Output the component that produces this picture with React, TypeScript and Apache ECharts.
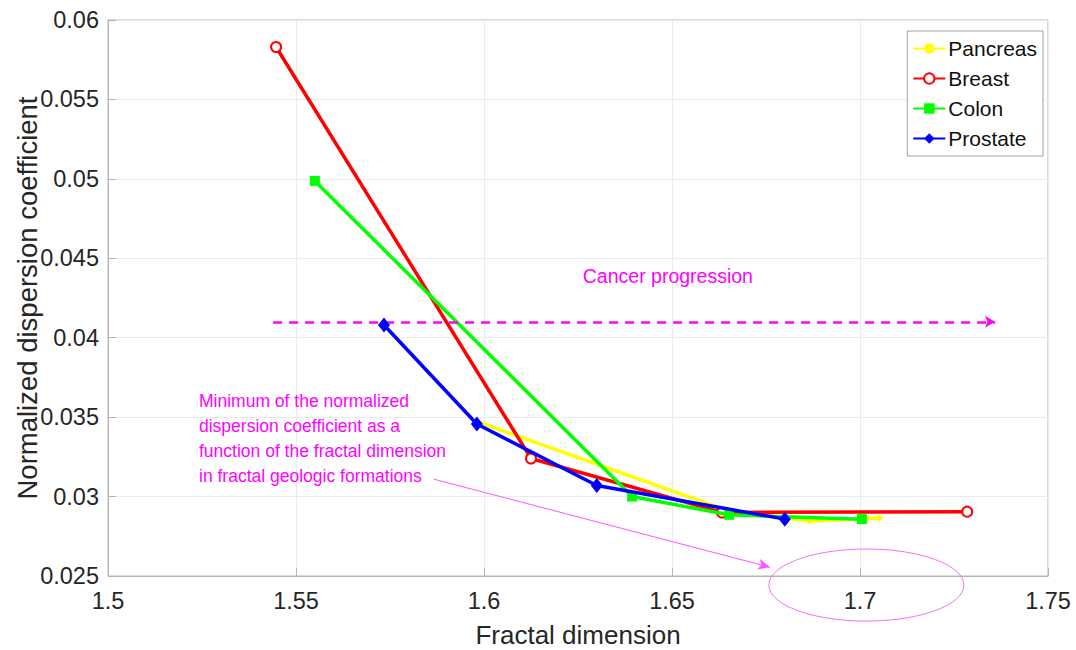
import React, { useEffect, useRef } from "react";
import * as echarts from "echarts";

const seriesNames = ["Pancreas", "Breast", "Colon", "Prostate"];
const pancreas: [number, number][] = [
  [1.5995, 0.0346],
  [1.665, 0.0291],
  [1.6867, 0.02846],
  [1.7051, 0.02865],
];
const breast: [number, number][] = [
  [1.5447, 0.0583],
  [1.6125, 0.0324],
  [1.6633, 0.0290],
  [1.7285, 0.02905],
];
const colon: [number, number][] = [
  [1.555, 0.04987],
  [1.6394, 0.0300],
  [1.6652, 0.02885],
  [1.7005, 0.02858],
];
const prostate: [number, number][] = [
  [1.5734, 0.0408],
  [1.5981, 0.03457],
  [1.630, 0.0307],
  [1.680, 0.02858],
];

const progressionArrow: [number, number][] = [
  [1.5439, 0.041],
  [1.7359, 0.041],
];
const minimumArrow: [number, number][] = [
  [1.5866, 0.0311],
  [1.6761, 0.02555],
];
const progressionLabel = "Cancer progression";
const progressionLabelPos: [number, number] = [1.6489, 0.04389];
const minimumLabel = [
  "Minimum of the normalized",
  "dispersion coefficient as a",
  "function of the fractal dimension",
  "in fractal geologic formations",
];
const minimumLabelPos: [number, number] = [1.5242, 0.03681];
const ellipseCenter: [number, number] = [1.7017, 0.02443];
const ellipseRadii: [number, number] = [0.02593, 0.002267];

const FONT = "'Liberation Sans', Arial, sans-serif";
const MAGENTA = "#ff00ff";

export default function App() {
  const ref = useRef<HTMLDivElement>(null);
  useEffect(() => {
    if (!ref.current) return;
    const chart = echarts.init(ref.current, null, { renderer: "svg" });
    const fmt = (v: number) => String(+v.toFixed(3));
    chart.setOption({
      animation: false,
      backgroundColor: "#ffffff",
      textStyle: { fontFamily: FONT },
      grid: {
        left: 108,
        right: 28,
        top: 20,
        bottom: 74,
        containLabel: false,
        outerBoundsMode: "none",
        show: true,
        borderColor: "#b4b4b4",
        borderWidth: 1,
        backgroundColor: "transparent",
      },
      legend: {
        data: seriesNames,
        orient: "vertical",
        right: 33,
        top: 31,
        padding: [7, 6, 7, 5],
        itemGap: 9,
        itemWidth: 32,
        itemHeight: 13,
        backgroundColor: "#ffffff",
        borderColor: "#a0a0a0",
        borderWidth: 1,
        borderRadius: 0,
        textStyle: { fontSize: 21, color: "#111", fontFamily: FONT, padding: [0, 0, 0, -2] },
      },
      xAxis: {
        type: "value",
        min: 1.5,
        max: 1.75,
        interval: 0.05,
        name: "Fractal dimension",
        nameLocation: "middle",
        nameGap: 46,
        nameMoveOverlap: false,
        nameTextStyle: { fontSize: 26, color: "#262626", fontFamily: FONT },
        axisLine: { show: true, onZero: false, lineStyle: { color: "#b4b4b4" } },
        axisTick: { show: true, inside: true, length: 8, lineStyle: { color: "#b4b4b4" } },
        axisLabel: { fontSize: 23.5, color: "#262626", margin: 13, formatter: fmt, fontFamily: FONT },
        splitLine: { show: true, lineStyle: { color: "#ebebeb" } },
      },
      yAxis: {
        type: "value",
        min: 0.025,
        max: 0.06,
        interval: 0.005,
        name: "Normalized dispersion coefficient",
        nameLocation: "middle",
        nameGap: 67,
        nameMoveOverlap: false,
        nameTextStyle: { fontSize: 27.5, color: "#262626", fontFamily: FONT },
        axisLine: { show: true, onZero: false, lineStyle: { color: "#b4b4b4" } },
        axisTick: { show: true, inside: true, length: 8, lineStyle: { color: "#b4b4b4" } },
        axisLabel: { fontSize: 23.5, color: "#262626", margin: 9, formatter: fmt, fontFamily: FONT },
        splitLine: { show: true, lineStyle: { color: "#ebebeb" } },
      },
      series: [
        {
          name: "Pancreas",
          type: "line",
          data: pancreas,
          symbol: "circle",
          symbolSize: 6,
          showAllSymbol: true,
          lineStyle: { color: "#ffff00", width: 3.5 },
          itemStyle: { color: "#ffff00" },
          z: 2,
        },
        {
          name: "Breast",
          type: "line",
          data: breast,
          symbol: "emptyCircle",
          symbolSize: 10,
          lineStyle: { color: "#ff0000", width: 3.5 },
          itemStyle: { color: "#ff0000", borderColor: "#ff0000", borderWidth: 3 },
          z: 3,
        },
        {
          name: "Colon",
          type: "line",
          data: colon,
          symbol: "rect",
          symbolSize: 10,
          lineStyle: { color: "#00ff00", width: 3.5 },
          itemStyle: { color: "#00ff00" },
          z: 4,
        },
        {
          name: "Prostate",
          type: "line",
          data: prostate,
          symbol: "diamond",
          symbolSize: [12, 15],
          lineStyle: { color: "#0000ff", width: 3.5 },
          itemStyle: { color: "#0000ff" },
          z: 5,
        },
        {
          name: "annotations",
          type: "line",
          data: [],
          silent: true,
          z: 6,
          markLine: {
            silent: true,
            animation: false,
            label: { show: false },
            emphasis: { disabled: true },
            data: [
              [
                {
                  coord: progressionArrow[0],
                  symbol: "none",
                  lineStyle: { color: MAGENTA, width: 2.5, type: [9, 7] },
                },
                { coord: progressionArrow[1], symbol: "arrow", symbolSize: [9, 10] },
              ],
              [
                {
                  coord: minimumArrow[0],
                  symbol: "none",
                  lineStyle: { color: "#ff55ff", width: 1, type: "solid" },
                },
                { coord: minimumArrow[1], symbol: "arrow", symbolSize: [8, 12] },
              ],
            ],
          },
        },
      ],
    });

    const p = (c: [number, number]) => chart.convertToPixel({ gridIndex: 0 }, c) as number[];
    const cp = p(progressionLabelPos);
    const mp = p(minimumLabelPos);
    const ec = p(ellipseCenter);
    const ex = p([ellipseCenter[0] + ellipseRadii[0], ellipseCenter[1] + ellipseRadii[1]]);
    chart.setOption({
      graphic: [
        {
          type: "text",
          x: cp[0],
          y: cp[1],
          silent: true,
          style: {
            text: progressionLabel,
            fill: MAGENTA,
            font: `19.5px ${FONT}`,
            align: "center",
            verticalAlign: "middle",
          },
        },
        {
          type: "text",
          x: mp[0],
          y: mp[1],
          silent: true,
          style: {
            text: minimumLabel.join("\n"),
            fill: MAGENTA,
            font: `17.5px ${FONT}`,
            lineHeight: 25,
            align: "left",
            verticalAlign: "top",
          },
        },
        {
          type: "ellipse",
          silent: true,
          shape: { cx: ec[0], cy: ec[1], rx: ex[0] - ec[0], ry: ec[1] - ex[1] },
          style: { fill: "none", stroke: "#f070f0", lineWidth: 1 },
          z: 10,
        },
      ],
    });

    return () => chart.dispose();
  }, []);
  return (
    <div
      ref={ref}
      style={{ position: "fixed", left: 0, top: 0, width: 1076, height: 650 }}
    />
  );
}
